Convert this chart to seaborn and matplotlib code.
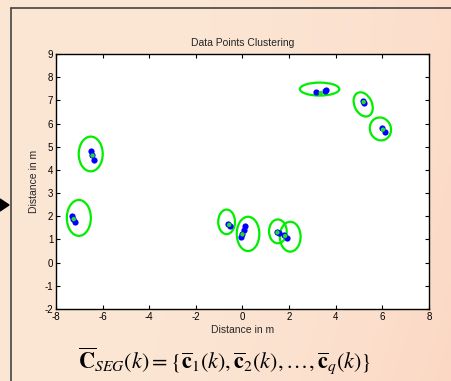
import numpy as np
import pandas as pd
import matplotlib
matplotlib.use("Agg")
import matplotlib.pyplot as plt
from matplotlib.patches import Ellipse, Polygon
import seaborn as sns

sns.set_style("white")
plt.rcParams['font.family'] = ['Liberation Sans', 'DejaVu Sans']
plt.rcParams['mathtext.fontset'] = 'stix'
plt.rcParams['axes.unicode_minus'] = False

# raw data points (blue), per cluster
pt_cluster = ['A', 'A', 'A', 'B', 'B', 'B', 'C', 'C', 'D', 'D', 'D', 'D',
              'E', 'E', 'F', 'F', 'G', 'G', 'G', 'H', 'H', 'I', 'I']
pt_x = [-7.30, -7.25, -7.19, -6.49, -6.44, -6.37, -0.60, -0.55, 0.10, 0.05, 0.00, -0.05,
        1.48, 1.55, 1.80, 1.90, 3.15, 3.55, 3.60, 5.17, 5.22, 5.97, 6.10]
pt_y = [2.02, 1.90, 1.76, 4.82, 4.65, 4.45, 1.65, 1.60, 1.60, 1.40, 1.25, 1.10,
        1.33, 1.27, 1.20, 1.08, 7.35, 7.41, 7.43, 6.98, 6.90, 5.83, 5.64]

# cluster centroids (green dots)
cen_x = [-7.24, -6.43, -0.57, 0.00, 1.50, 1.83, 3.36, 5.20, 6.03]
cen_y = [1.88, 4.62, 1.63, 1.22, 1.30, 1.15, 7.32, 6.93, 5.74]

# cluster ellipses
ell_x = [-7.02, -6.51, -0.68, 0.24, 1.52, 2.05, 3.31, 5.18, 5.92]
ell_y = [1.93, 4.69, 1.76, 1.24, 1.35, 1.12, 7.49, 6.83, 5.77]
ell_w = [1.03, 1.03, 0.72, 0.97, 0.76, 0.89, 1.69, 0.75, 0.90]
ell_h = [1.55, 1.50, 1.06, 1.48, 1.03, 1.29, 0.56, 1.10, 1.00]
ell_a = [0, 0, 0, 0, 0, 0, 0, 25, 20]

points = pd.DataFrame({'x': pt_x, 'y': pt_y, 'cluster': pt_cluster})
cents = pd.DataFrame({'x': cen_x, 'y': cen_y})

fig = plt.figure(figsize=(4.52, 3.81), dpi=100)

# slide background
bg = fig.add_axes([0, 0, 1, 1], zorder=-10)
gx = np.linspace(0, 1, 200)
gy = np.linspace(0, 1, 170)
GX, GY = np.meshgrid(gx, gy)
base = np.array([251, 230, 212]) / 255.0
warm = np.array([252, 212, 192]) / 255.0
t = np.clip(0.5 * GX ** 3 + 0.3 * (GX * (1 - GY)) ** 2, 0, 1)[..., None]
img = base * (1 - t) + warm * t
bg.imshow(img, extent=[0, 1, 0, 1], aspect='auto', origin='lower')
bg.set_xlim(0, 1)
bg.set_ylim(0, 1)
bg.axis('off')
# figure frame lines and pointer
bg.plot([11 / 452, 11 / 452], [0, 1 - 8 / 381], color='#444444', lw=1.2)
bg.plot([11 / 452, 1], [1 - 8 / 381, 1 - 8 / 381], color='#444444', lw=1.2)
bg.add_patch(Polygon([[0, 1 - 199 / 381], [9 / 452, 1 - 205 / 381], [0, 1 - 211 / 381]],
                     closed=True, color='black'))

ax = fig.add_axes([0.1239, 0.189, 0.825, 0.669])
ax.set_facecolor('white')

for x, y, w, h, a in zip(ell_x, ell_y, ell_w, ell_h, ell_a):
    ax.add_patch(Ellipse((x, y), w, h, angle=a, fill=False, edgecolor='#00ee00', lw=1.6, zorder=2))

sns.scatterplot(data=points, x='x', y='y', color='#0000ff', s=20, edgecolor='#0000ff',
                linewidth=0, ax=ax, zorder=3, legend=False)
sns.scatterplot(data=cents, x='x', y='y', color='#22dd22', s=10, edgecolor='none',
                linewidth=0, ax=ax, zorder=4, legend=False)

ax.set_xlim(-8, 8)
ax.set_ylim(-2, 9)
ax.set_xticks(range(-8, 9, 2))
ax.set_yticks(range(-2, 10))
ax.tick_params(direction='in', length=3, width=0.8, labelsize=7, pad=2,
               top=True, right=True, bottom=True, left=True, colors='black')
for s in ax.spines.values():
    s.set_visible(True)
    s.set_color('black')
    s.set_linewidth(1.0)

ax.set_title('Data Points Clustering', fontsize=7.5, pad=6)
ax.set_xlabel('Distance in m', fontsize=7.5, labelpad=2)
ax.set_ylabel('Distance in m', fontsize=7.5, labelpad=4)

fig.text(225 / 452, 1 - 360 / 381,
         r'$\overline{\mathbf{C}}_{SEG}(k)=\{\overline{\mathbf{c}}_1(k),\overline{\mathbf{c}}_2(k),\ldots,\overline{\mathbf{c}}_q(k)\}$',
         fontsize=16, ha='center', va='center', color='black')

fig.savefig('out.png', dpi=100)
